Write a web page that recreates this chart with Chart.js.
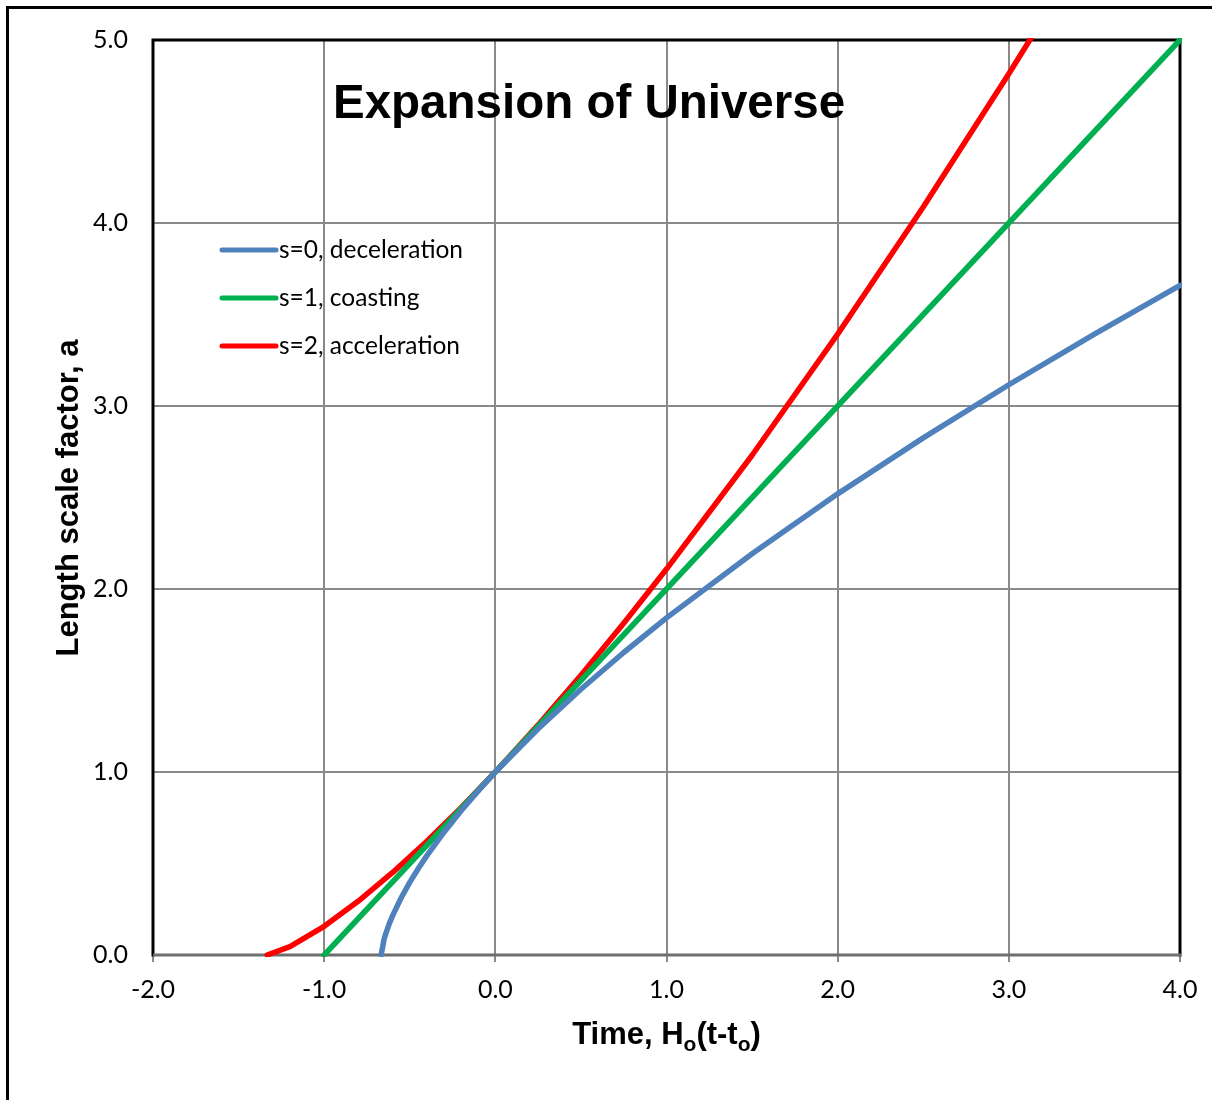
<!DOCTYPE html>
<html>
<head>
<meta charset="utf-8">
<title>Expansion of Universe</title>
<script src="https://cdn.jsdelivr.net/npm/chart.js@4.4.1/dist/chart.umd.min.js"></script>
<style>
  html, body { margin: 0; padding: 0; background: #ffffff; }
  #wrap { width: 1212px; height: 1100px; }
  canvas { display: block; }
</style>
</head>
<body>
<div id="wrap"><canvas id="c" width="1212" height="1100"></canvas></div>
<script>
// ---- data ----
const chartTitle = 'Expansion of Universe';
const yAxisTitle = 'Length scale factor, a';
const xAxisTitleParts = ['Time, H', 'o', '(t-t', 'o', ')'];

const seriesLabels = ['s=0, deceleration', 's=1, coasting', 's=2, acceleration'];
const seriesColors = ['#4F81BD', '#00B050', '#FF0000'];

// s=0, deceleration
const tDecel = [-0.667, -0.65, -0.64, -0.62, -0.6, -0.55, -0.5, -0.45, -0.4, -0.3, -0.2, -0.1, 0, 0.25, 0.5, 0.75, 1, 1.5, 2, 2.5, 3, 3.5, 4];
const aDecel = [0, 0.086, 0.117, 0.170, 0.215, 0.313, 0.397, 0.473, 0.543, 0.671, 0.788, 0.897, 1, 1.236, 1.452, 1.653, 1.842, 2.193, 2.520, 2.826, 3.116, 3.393, 3.659];

// s=1, coasting
const tCoast = [-1, -0.5, 0, 0.5, 1, 1.5, 2, 2.5, 3, 3.5, 4];
const aCoast = [0, 0.5, 1, 1.5, 2, 2.5, 3, 3.5, 4, 4.5, 5];

// s=2, acceleration
const tAccel = [-1.333, -1.2, -1.0, -0.8, -0.6, -0.4, -0.2, 0, 0.25, 0.5, 0.75, 1, 1.5, 2, 2.5, 3, 3.5];
const aAccel = [0, 0.046, 0.157, 0.295, 0.451, 0.622, 0.805, 1, 1.257, 1.529, 1.813, 2.109, 2.731, 3.393, 4.087, 4.816, 5.567];

const xTicks = [-2, -1, 0, 1, 2, 3, 4];
const yTicks = [0, 1, 2, 3, 4, 5];

// ---- build datasets ----
function pts(xs, ys) { return xs.map((x, i) => ({ x: x, y: ys[i] })); }
const seriesT = [tDecel, tCoast, tAccel];
const seriesA = [aDecel, aCoast, aAccel];

const datasets = seriesLabels.map((lab, i) => ({
  label: lab,
  data: pts(seriesT[i], seriesA[i]),
  borderColor: seriesColors[i],
  backgroundColor: seriesColors[i],
  borderWidth: 5.5,
  pointRadius: 0,
  pointHoverRadius: 0,
  showLine: true,
  tension: 0,
  borderJoinStyle: 'round',
  borderCapStyle: 'round',
  clip: 2
}));

const tickFont = { family: 'Lato, "Open Sans", sans-serif', size: 25 };

const decorPlugin = {
  id: 'decor',
  beforeDraw(chart) {
    const ctx = chart.ctx;
    ctx.save();
    ctx.strokeStyle = '#000';
    ctx.lineWidth = 3;
    ctx.strokeRect(7.5, 7.5, 3000, 3000);
    ctx.restore();
  },
  beforeDatasetsDraw(chart) {
    const ctx = chart.ctx;
    const a = chart.chartArea;
    ctx.save();
    ctx.lineCap = 'square';
    ctx.strokeStyle = '#000';
    ctx.lineWidth = 3;
    ctx.beginPath();
    ctx.moveTo(a.left, a.bottom);
    ctx.lineTo(a.left, a.top);
    ctx.lineTo(a.right, a.top);
    ctx.lineTo(a.right, a.bottom);
    ctx.stroke();
    ctx.strokeStyle = '#6e6e6e';
    ctx.lineCap = 'butt';
    ctx.beginPath();
    ctx.moveTo(a.left, a.bottom);
    ctx.lineTo(a.right + 1, a.bottom);
    ctx.stroke();
    ctx.restore();
  },
  afterDraw(chart) {
    const ctx = chart.ctx;
    const a = chart.chartArea;
    ctx.save();
    ctx.fillStyle = '#000';

    // chart title inside the plot area
    ctx.font = 'bold 47.5px "Liberation Sans", Arial, sans-serif';
    ctx.textAlign = 'left';
    ctx.textBaseline = 'alphabetic';
    ctx.fillText(chartTitle, 333, 118);

    // legend inside plot area
    chart.data.datasets.forEach((ds, i) => {
      const y = 250 + 48 * i;
      ctx.strokeStyle = ds.borderColor;
      ctx.lineWidth = 5;
      ctx.lineCap = 'round';
      ctx.beginPath();
      ctx.moveTo(222, y);
      ctx.lineTo(276, y);
      ctx.stroke();
      ctx.font = '24.5px Lato, "Open Sans", sans-serif';
      ctx.textBaseline = 'middle';
      ctx.textAlign = 'left';
      ctx.fillStyle = '#000';
      ctx.fillText(ds.label, 279, y);
    });

    // y axis title (rotated)
    ctx.save();
    ctx.translate(78, 498);
    ctx.rotate(-Math.PI / 2);
    ctx.font = 'bold 31px "Liberation Sans", Arial, sans-serif';
    ctx.textAlign = 'center';
    ctx.textBaseline = 'alphabetic';
    ctx.fillText(yAxisTitle, 0, 0);
    ctx.restore();

    // x axis title with subscripts
    const mainFont = 'bold 31px "Liberation Sans", Arial, sans-serif';
    const subFont = 'bold 21px "Liberation Sans", Arial, sans-serif';
    const widths = xAxisTitleParts.map((p, i) => {
      ctx.font = (i % 2 === 1) ? subFont : mainFont;
      return ctx.measureText(p).width;
    });
    const total = widths.reduce((s, w) => s + w, 0);
    let x = (a.left + a.right) / 2 - total / 2;
    ctx.textAlign = 'left';
    ctx.textBaseline = 'alphabetic';
    xAxisTitleParts.forEach((p, i) => {
      const sub = (i % 2 === 1);
      ctx.font = sub ? subFont : mainFont;
      ctx.fillText(p, x, sub ? 1051 : 1044);
      x += widths[i];
    });
    ctx.restore();
  }
};

new Chart(document.getElementById('c'), {
  type: 'scatter',
  data: { datasets: datasets },
  options: {
    responsive: false,
    devicePixelRatio: 1,
    animation: false,
    events: [],
    layout: { padding: { left: 0, top: 39, right: 32, bottom: 0 } },
    plugins: {
      legend: { display: false },
      title: { display: false },
      tooltip: { enabled: false }
    },
    scales: {
      x: {
        type: 'linear',
        min: xTicks[0],
        max: xTicks[xTicks.length - 1],
        afterFit(scale) { scale.height = 145; },
        afterBuildTicks(scale) { scale.ticks = xTicks.map(v => ({ value: v })); },
        ticks: {
          color: '#000',
          font: tickFont,
          padding: 13,
          maxRotation: 0,
          autoSkip: false,
          callback: v => Number(v).toFixed(1)
        },
        grid: {
          color: '#8a8a8a',
          lineWidth: 2,
          drawTicks: true,
          tickLength: 7,
          tickColor: '#8a8a8a'
        },
        border: { display: false }
      },
      y: {
        type: 'linear',
        min: yTicks[0],
        max: yTicks[yTicks.length - 1],
        afterFit(scale) { scale.width = 153; },
        afterBuildTicks(scale) { scale.ticks = yTicks.map(v => ({ value: v })); },
        ticks: {
          color: '#000',
          font: tickFont,
          padding: 25,
          autoSkip: false,
          callback: v => Number(v).toFixed(1)
        },
        grid: {
          color: '#8a8a8a',
          lineWidth: 2,
          drawTicks: false
        },
        border: { display: false }
      }
    }
  },
  plugins: [decorPlugin]
});
</script>
</body>
</html>
